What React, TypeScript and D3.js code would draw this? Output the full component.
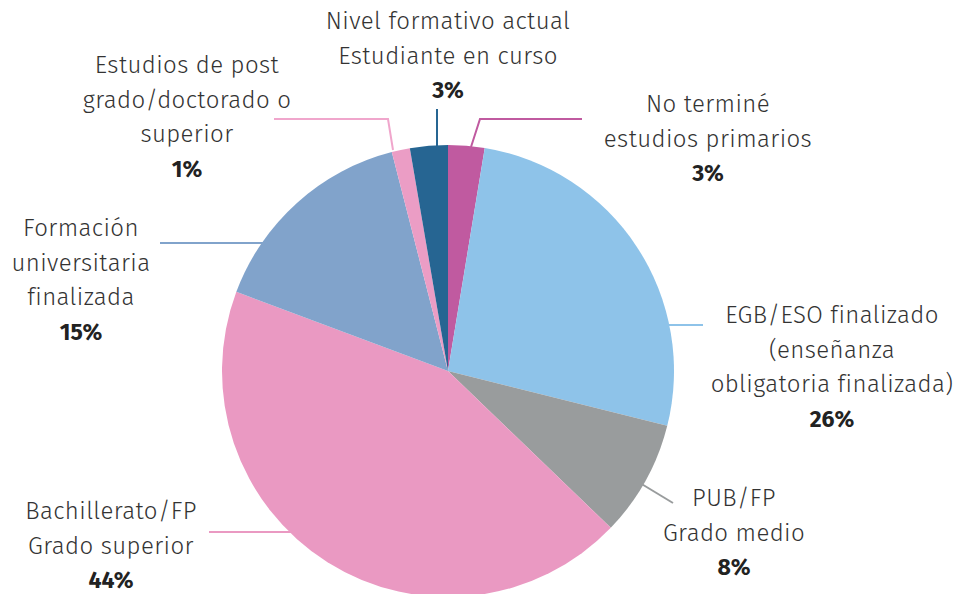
import React from "react";
import * as d3 from "d3";

const categories = [
  "No terminé estudios primarios",
  "EGB/ESO finalizado (enseñanza obligatoria finalizada)",
  "PUB/FP Grado medio",
  "Bachillerato/FP Grado superior",
  "Formación universitaria finalizada",
  "Estudios de post grado/doctorado o superior",
  "Nivel formativo actual Estudiante en curso",
];
const values = [2.6, 26.3, 8.3, 43.5, 15.3, 1.3, 2.7];
const percentLabels = ["3%", "26%", "8%", "44%", "15%", "1%", "3%"];
const labelLines = [
  ["No terminé", "estudios primarios"],
  ["EGB/ESO finalizado", "(enseñanza", "obligatoria finalizada)"],
  ["PUB/FP", "Grado medio"],
  ["Bachillerato/FP", "Grado superior"],
  ["Formación", "universitaria", "finalizada"],
  ["Estudios de post", "grado/doctorado o", "superior"],
  ["Nivel formativo actual", "Estudiante en curso"],
];
const colors = ["#c05aa0", "#8ec3e9", "#999c9d", "#ea99c2", "#81a3cb", "#eb9dc5", "#266592"];
const lineColors = ["#c05aa0", "#8ec3e9", "#999c9d", "#ea99c2", "#81a3cb", "#f0a6cc", "#266592"];

// layout: label anchor (center x, first baseline y) and leader polylines
const labelPos = [
  [708, 112],
  [832, 323],
  [734, 506],
  [111, 519],
  [81, 236],
  [187, 73],
  [448, 29],
];
const leaders = [
  [[471, 147], [480, 119], [582, 119]],
  [[666, 325], [703, 325]],
  [[640, 483], [673, 503]],
  [[209, 532], [295, 532]],
  [[160, 243], [266, 243]],
  [[393, 150], [388, 119], [274, 119]],
  [[437, 109], [437, 147]],
];

const W = 957;
const H = 594;
const cx = 448;
const cy = 371;
const R = 226;
const LH = 34.6;

export default function App() {
  const pie = d3.pie<number>().sort(null).value((d) => d)(values);
  const arc = d3.arc<d3.PieArcDatum<number>>().innerRadius(0).outerRadius(R);
  const line = d3.line();
  return (
    <svg
      width={W}
      height={H}
      style={{ position: "absolute", left: 0, top: 0, background: "#fff" }}
      fontFamily="'Fira Sans', 'Open Sans', sans-serif"
    >
      <g>
        {leaders.map((pts, i) => (
          <path
            key={"l" + i}
            d={line(pts as [number, number][]) || ""}
            fill="none"
            stroke={lineColors[i]}
            strokeWidth={2}
          />
        ))}
      </g>
      <g transform={`translate(${cx},${cy})`}>
        {pie.map((p, i) => (
          <path key={"s" + i} d={arc(p) || ""} fill={colors[i]} />
        ))}
      </g>
      <g>
        {labelLines.map((ls, i) => (
          <text key={"t" + i} textAnchor="middle" fill="#333">
            {ls.map((s, j) => (
              <tspan
                key={j}
                x={labelPos[i][0]}
                y={labelPos[i][1] + j * LH}
                fontWeight={300}
                fontSize={24}
                letterSpacing={0.4}
              >
                {s}
              </tspan>
            ))}
            <tspan
              x={labelPos[i][0]}
              y={labelPos[i][1] + ls.length * LH}
              fontWeight={700}
              fontSize={23}
              fill="#222"
            >
              {percentLabels[i]}
            </tspan>
          </text>
        ))}
      </g>
    </svg>
  );
}
